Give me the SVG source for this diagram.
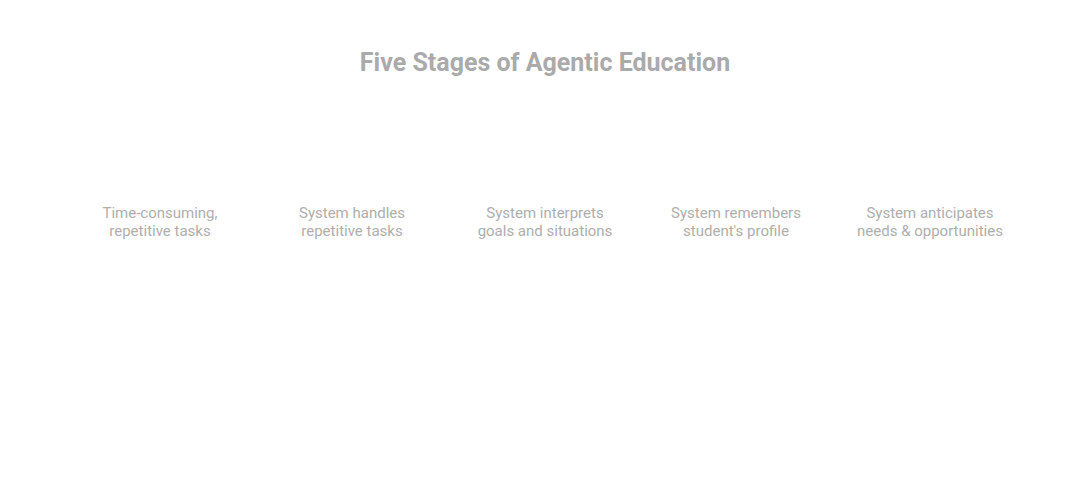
<svg xmlns="http://www.w3.org/2000/svg" width="1092" height="481" viewBox="0 0 1092 481">
<style>
.title{font-family:Roboto,"Liberation Sans",sans-serif;font-weight:700;font-size:25px;fill:#aaaaaa;text-anchor:middle}
.lbl{font-family:Roboto,"Liberation Sans",sans-serif;font-size:15px;fill:#aeaeae;text-anchor:middle}
</style>
<rect width="1092" height="481" fill="#ffffff"/>
<text class="title" x="545" y="71">Five Stages of Agentic Education</text>
<g id="connectors"></g>
<g id="stage1"><text class="lbl" x="160" y="218">Time-consuming,</text><text class="lbl" x="160" y="236">repetitive tasks</text></g>
<g id="stage2"><text class="lbl" x="352" y="218">System handles</text><text class="lbl" x="352" y="236">repetitive tasks</text></g>
<g id="stage3"><text class="lbl" x="545" y="218">System interprets</text><text class="lbl" x="545" y="236">goals and situations</text></g>
<g id="stage4"><text class="lbl" x="736" y="218">System remembers</text><text class="lbl" x="736" y="236">student's profile</text></g>
<g id="stage5"><text class="lbl" x="930" y="218">System anticipates</text><text class="lbl" x="930" y="236">needs &amp; opportunities</text></g>
</svg>
